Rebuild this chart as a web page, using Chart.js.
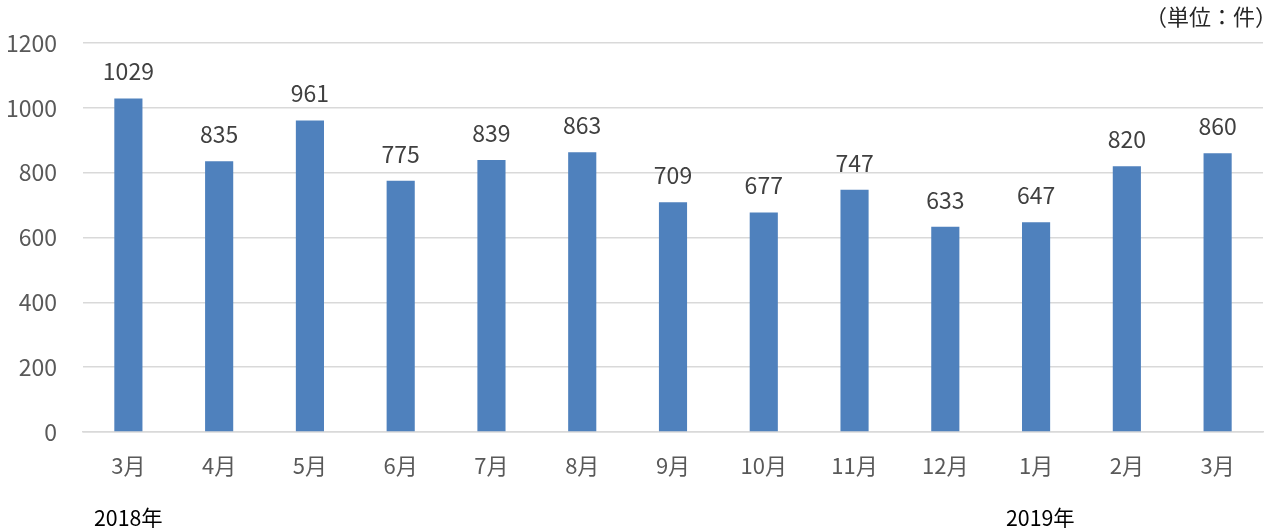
<!DOCTYPE html>
<html>
<head>
<meta charset="utf-8">
<script src="https://cdn.jsdelivr.net/npm/chart.js@4/dist/chart.umd.min.js"></script>
<style>
  html, body { margin: 0; padding: 0; background: #fff; overflow: hidden; }
  #wrap { position: relative; width: 1268px; height: 528px; }
  .note { position: absolute; font-family: "Noto Sans CJK JP", sans-serif; color: #000; white-space: nowrap; line-height: 1; }
</style>
</head>
<body>
<div id="wrap">
  <canvas id="grafico" width="1268" height="528"></canvas>
  <div class="note" style="left:1145px; top:4px; font-size:22px; color:#262626;">（単位：件）</div>
  <div class="note" style="left:94px; top:505px; font-size:22px; transform:scaleX(0.97); transform-origin:left;">2018年</div>
  <div class="note" style="left:1006px; top:505px; font-size:22px; transform:scaleX(0.97); transform-origin:left;">2019年</div>
</div>
<script>
const meses = ["3月", "4月", "5月", "6月", "7月", "8月", "9月", "10月", "11月", "12月", "1月", "2月", "3月"];
const valores = [1029, 835, 961, 775, 839, 863, 709, 677, 747, 633, 647, 820, 860];
const ticksY = [0, 200, 400, 600, 800, 1000, 1200];

const fonte = '"Noto Sans CJK JP", "Open Sans", sans-serif';

// rotulos de valor acima das barras
const rotulos = {
  id: "rotulos",
  afterDatasetsDraw(chart) {
    const ctx = chart.ctx;
    const meta = chart.getDatasetMeta(0);
    ctx.save();
    ctx.fillStyle = "#404040";
    ctx.font = "23px " + fonte;
    ctx.textAlign = "center";
    ctx.textBaseline = "middle";
    meta.data.forEach((barra, i) => {
      ctx.fillText(String(valores[i]), barra.x, barra.y - 27);
    });
    ctx.restore();
  }
};

const ctx = document.getElementById("grafico").getContext("2d");
new Chart(ctx, {
  type: "bar",
  data: {
    labels: meses,
    datasets: [{
      data: valores,
      backgroundColor: "#4f81bd",
      barPercentage: 0.31,
      categoryPercentage: 1
    }]
  },
  options: {
    responsive: false,
    animation: false,
    layout: { padding: { top: 43, right: 5, left: 0, bottom: 0 } },
    plugins: { legend: { display: false }, tooltip: { enabled: false } },
    scales: {
      x: {
        grid: { display: false, drawTicks: false },
        border: { display: true, color: "#d9d9d9", width: 1.5 },
        ticks: { color: "#595959", font: { family: fonte, size: 22 }, padding: 20, maxRotation: 0 },
        afterFit(scale) { scale.height = 96; }
      },
      y: {
        min: 0,
        max: 1200,
        afterBuildTicks(scale) { scale.ticks = ticksY.map(v => ({ value: v })); },
        grid: { color: "#d9d9d9", lineWidth: 1.5, drawTicks: false },
        border: { display: false },
        ticks: {
          color: "#595959",
          font: { family: fonte, size: 23 },
          padding: 26,
          callback: v => String(v)
        },
        afterFit(scale) { scale.width = 83; }
      }
    }
  },
  plugins: [rotulos]
});
</script>
</body>
</html>
